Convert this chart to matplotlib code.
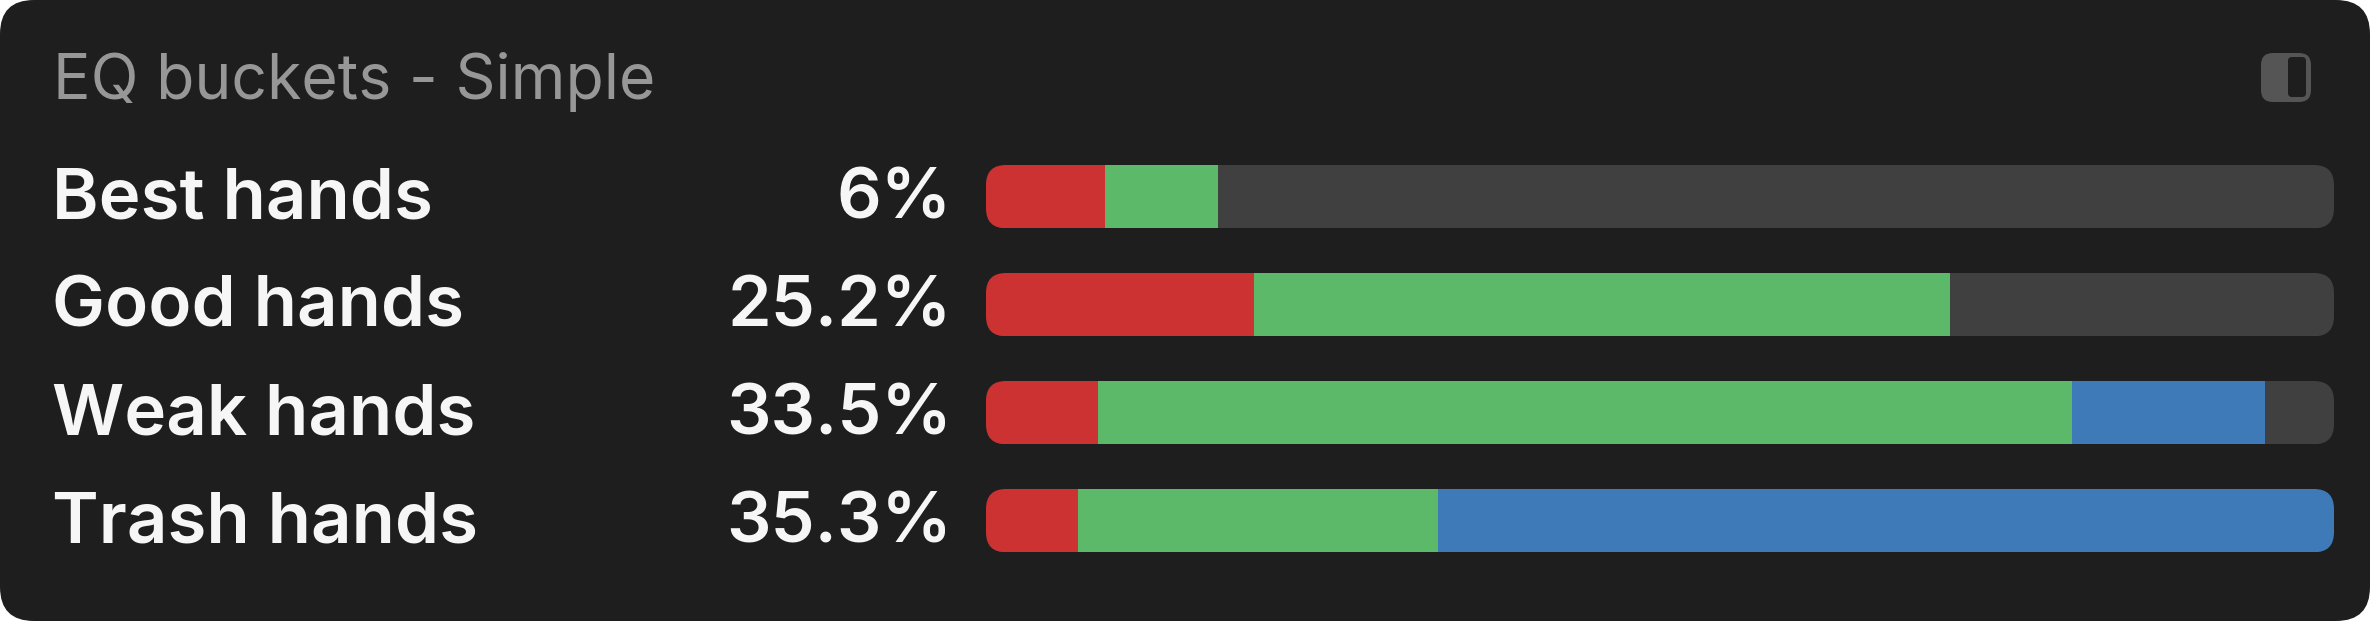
import matplotlib
matplotlib.use('Agg')
import matplotlib.pyplot as plt
from matplotlib.patches import FancyBboxPatch
from matplotlib.transforms import Affine2D

# Chart data
title = 'EQ buckets - Simple'
hands = ['Best hands', 'Good hands', 'Weak hands', 'Trash hands']
shares = ['6%', '25.2%', '33.5%', '35.3%']
red = [8.8, 19.9, 8.3, 6.8]
green = [8.4, 51.6, 72.3, 26.7]
blue = [0, 0, 14.3, 66.5]

W, H = 2370, 621
RED, GREEN, BLUE, TRACK = '#cc3232', '#5cb96a', '#3e7ab8', '#404040'
CARD = '#1e1e1e'
FONT = ['Inter', 'DejaVu Sans']

fig = plt.figure(figsize=(W / 100, H / 100), dpi=100, facecolor='white')
# pixel coordinates, origin top left like the reference
px = Affine2D().scale(1 / W, -1 / H).translate(0, 1) + fig.transFigure


def rounded(x, y, w, h, r, **kw):
    return FancyBboxPatch((x + r, y + r), w - 2 * r, h - 2 * r,
                          boxstyle=f'round,pad={r},rounding_size={r}',
                          transform=px, linewidth=0, **kw)


# Card background
fig.add_artist(rounded(0, 0, W, H, 34, facecolor=CARD))

# Title and panel icon
fig.text(53, 99, title, transform=px, family=FONT, fontsize=45, color='#979797')
fig.add_artist(rounded(2261, 53, 50, 49, 12, facecolor='#555555'))
fig.add_artist(rounded(2288, 57, 18, 40, 4, facecolor=CARD))

# Stacked bars
bar_left, bar_right = 986, 2334
row_top, row_h, row_pitch = 165, 63.3, 108
ax_top = row_top - (row_pitch - row_h) / 2
ax = fig.add_axes([bar_left / W, 1 - (ax_top + row_pitch * 4) / H,
                   (bar_right - bar_left) / W, row_pitch * 4 / H])
ax.set_zorder(5)  # figure level patches draw above axes otherwise
ax.set_xlim(0, 100)
ax.set_ylim(3.5, -0.5)
ax.axis('off')

for i, hand in enumerate(hands):
    top = row_top + i * row_pitch
    clip = rounded(bar_left, top, bar_right - bar_left, row_h, 20, facecolor='none')
    h = row_h / row_pitch
    used = red[i] + green[i] + blue[i]
    bars = [
        ax.barh(i, red[i], left=0, height=h, color=RED),
        ax.barh(i, green[i], left=red[i], height=h, color=GREEN),
        ax.barh(i, blue[i], left=red[i] + green[i], height=h, color=BLUE),
        ax.barh(i, 100 - used, left=used, height=h, color=TRACK),
    ]
    for group in bars:
        for patch in group:
            patch.set_clip_path(clip)

    baseline = top + row_h - 9.5
    fig.text(52, baseline, hand, transform=px, family=FONT, fontsize=51,
             fontweight='semibold', color='#f6f6f6')
    fig.text(952, baseline, shares[i], transform=px, family=FONT, fontsize=50.5,
             fontweight='semibold', color='#f6f6f6', ha='right')

fig.savefig('out.png', dpi=100, facecolor=fig.get_facecolor())
